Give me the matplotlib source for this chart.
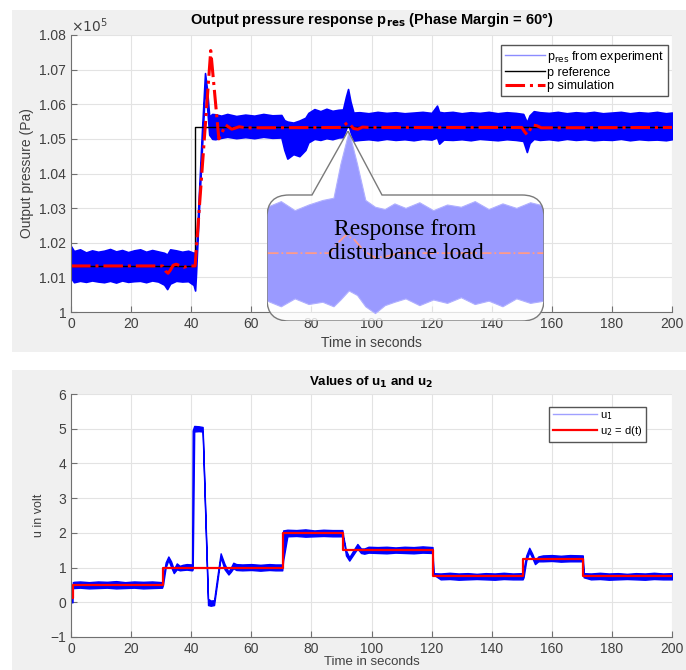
import matplotlib.pyplot as plt
from matplotlib.path import Path
from matplotlib.patches import PathPatch, Rectangle
from matplotlib.lines import Line2D
from matplotlib.ticker import FormatStrFormatter

plt.rcParams['font.family'] = ['Liberation Sans', 'DejaVu Sans']

# ---- top chart: pressure in units of 1e5 Pa ----
exp_t = [0, 1, 3, 5, 7, 9, 11, 13, 15, 17, 19, 21, 23, 25, 27, 29, 31, 32, 33, 35, 37, 39, 40.8, 41.3,
         41.6, 42.5, 43.5, 44.6, 45.3, 46, 47,
         48, 50, 52, 55, 58, 61, 64, 67, 70, 71, 72, 74, 76, 78, 79, 81, 83, 85, 87, 89, 90.5,
         91.5, 92.2, 93, 94, 96, 99, 102, 105, 108, 111, 114, 117, 120, 121.8, 122.5,
         124, 127, 130, 133, 136, 139, 142, 145, 148, 150.5, 151.7, 152.6,
         154, 156, 159, 162, 165, 168, 171, 174, 177, 180, 183, 186, 189, 192, 195, 198, 200]
exp_hi = [1.0190, 1.0176, 1.0181, 1.0172, 1.0178, 1.0174, 1.0177, 1.0182, 1.0175, 1.0179, 1.0173, 1.0178,
          1.0181, 1.0174, 1.0179, 1.0175, 1.0171, 1.0166, 1.0181, 1.0178, 1.0174, 1.0177, 1.0171, 1.0172,
          1.0160, 1.0330, 1.0510, 1.0690, 1.0640, 1.0565, 1.0572,
          1.0571, 1.0567, 1.0572, 1.0566, 1.0570, 1.0567, 1.0572, 1.0568, 1.0569, 1.0554, 1.0550, 1.0547,
          1.0553, 1.0561, 1.0575, 1.0586, 1.0580, 1.0587, 1.0581, 1.0584, 1.0585,
          1.0622, 1.0644, 1.0608, 1.0576, 1.0577, 1.0574, 1.0578, 1.0575, 1.0577, 1.0574, 1.0576, 1.0578,
          1.0575, 1.0596, 1.0578,
          1.0576, 1.0578, 1.0574, 1.0577, 1.0575, 1.0578, 1.0574, 1.0577, 1.0575, 1.0572, 1.0548, 1.0568,
          1.0580, 1.0577, 1.0575, 1.0578, 1.0574, 1.0577, 1.0575, 1.0578, 1.0574, 1.0576, 1.0578, 1.0574,
          1.0577, 1.0575, 1.0578, 1.0574, 1.0576]
exp_lo = [1.0098, 1.0086, 1.0090, 1.0087, 1.0091, 1.0088, 1.0086, 1.0090, 1.0085, 1.0091, 1.0087, 1.0089,
          1.0090, 1.0086, 1.0091, 1.0088, 1.0079, 1.0066, 1.0082, 1.0090, 1.0088, 1.0089, 1.0078, 1.0062,
          1.0110, 1.0280, 1.0460, 1.0650, 1.0590, 1.0512, 1.0500,
          1.0499, 1.0503, 1.0506, 1.0502, 1.0505, 1.0502, 1.0506, 1.0503, 1.0504, 1.0468, 1.0443, 1.0456,
          1.0450, 1.0468, 1.0490, 1.0500, 1.0497, 1.0502, 1.0499, 1.0504, 1.0505,
          1.0528, 1.0545, 1.0520, 1.0495, 1.0497, 1.0499, 1.0496, 1.0500, 1.0497, 1.0499, 1.0496, 1.0500,
          1.0498, 1.0504, 1.0486,
          1.0498, 1.0497, 1.0499, 1.0496, 1.0500, 1.0498, 1.0496, 1.0499, 1.0497, 1.0494, 1.0462, 1.0488,
          1.0500, 1.0497, 1.0499, 1.0496, 1.0500, 1.0497, 1.0499, 1.0496, 1.0498, 1.0497, 1.0500, 1.0496,
          1.0499, 1.0497, 1.0498, 1.0496, 1.0499]

ref_t = [0, 41.3, 41.3, 200]
ref_p = [1.0133, 1.0133, 1.0533, 1.0533]

sim_t = [0, 30.5, 31.5, 32.3, 33, 34, 35, 36.5, 37.5, 39, 41.3, 46.5, 49.2, 51.5, 53.5, 56, 58,
         90, 91, 92, 93, 94, 95.5, 97, 99, 150, 151, 151.8, 152.5, 153.5, 155, 156.5, 200]
sim_p = [1.0133, 1.0133, 1.0118, 1.0112, 1.0120, 1.0135, 1.0138, 1.0133, 1.0129, 1.0133, 1.0133,
         1.0755, 1.0500, 1.0540, 1.0528, 1.0535, 1.0532,
         1.0533, 1.0540, 1.0547, 1.0540, 1.0530, 1.0528, 1.0534, 1.0533, 1.0533, 1.0520, 1.0512,
         1.0522, 1.0540, 1.0538, 1.0532, 1.0533]

# magnified view of the disturbance near t = 92 s
zoom_t = [86, 87, 88, 89, 90, 90.8, 91.3, 91.9, 92.5, 93.1, 93.8, 94.5, 95.2, 96, 97, 98, 99, 100,
          101, 102, 103, 104, 105, 106]
zoom_hi = [1.0574, 1.0579, 1.0571, 1.0576, 1.0580, 1.0582, 1.0612, 1.0641, 1.0612, 1.0580, 1.0574,
           1.0572, 1.0577, 1.0573, 1.0578, 1.0571, 1.0576, 1.0574, 1.0579, 1.0572, 1.0577, 1.0573,
           1.0578, 1.0575]
zoom_lo = [1.0491, 1.0486, 1.0493, 1.0488, 1.0490, 1.0486, 1.0492, 1.0500, 1.0496, 1.0486, 1.0480,
           1.0487, 1.0490, 1.0493, 1.0487, 1.0492, 1.0489, 1.0494, 1.0488, 1.0491, 1.0486, 1.0493,
           1.0489, 1.0491]
zoom_sim_t = [86, 90.5, 91.2, 91.7, 92.3, 93.0, 93.8, 94.6, 95.5, 106]
zoom_sim_p = [1.0533, 1.0533, 1.0543, 1.0549, 1.0545, 1.0535, 1.0529, 1.0530, 1.0533, 1.0533]

# ---- bottom chart: control voltages ----
u1_t = [0, 0.5, 0.6, 1, 3, 6, 9, 12, 15, 18, 21, 24, 27, 30.3,
        30.6, 31.5, 32.4, 33.3, 34.2, 35.2, 36.2, 37.2, 38.5, 40.3,
        40.5, 41, 42.5, 43.8, 45.6, 46.5, 47.6, 48.7, 49.8, 51.1, 52.4, 53.2, 54.0, 55.0,
        57, 60, 63, 66, 68, 70.3,
        70.6, 72, 75, 78, 81, 84, 87, 90.3,
        90.6, 91.5, 92.6, 94, 95.3, 96.5, 97.6, 99, 102, 105, 108, 111, 114, 117, 120.3,
        120.6, 123, 126, 129, 132, 135, 138, 141, 144, 147, 150.3,
        150.6, 151.5, 152.5, 153.5, 154.4, 155.5, 157, 160, 163, 166, 170.3,
        170.6, 173, 176, 179, 182, 185, 188, 191, 194, 197, 200]
u1_hi = [0.20, 0.20, 0.58, 0.59, 0.60, 0.58, 0.60, 0.59, 0.61, 0.58, 0.60, 0.59, 0.60, 0.58,
         0.70, 1.15, 1.32, 1.18, 0.95, 1.12, 1.05, 1.08, 1.10, 1.09,
         4.95, 5.08, 5.07, 5.05, 0.10, 0.05, 0.06, 0.75, 1.41, 1.10, 0.88, 1.00, 1.14, 1.10,
         1.09, 1.10, 1.08, 1.10, 1.09, 1.09,
         2.07, 2.09, 2.08, 2.10, 2.07, 2.09, 2.08, 2.08,
         1.90, 1.50, 1.30, 1.50, 1.68, 1.55, 1.55, 1.60, 1.59, 1.60, 1.58, 1.60, 1.59, 1.61, 1.59,
         0.84, 0.83, 0.85, 0.83, 0.84, 0.82, 0.84, 0.83, 0.85, 0.83, 0.84,
         0.95, 1.35, 1.57, 1.40, 1.20, 1.32, 1.35, 1.36, 1.34, 1.36, 1.35,
         0.84, 0.83, 0.85, 0.83, 0.84, 0.82, 0.84, 0.83, 0.85, 0.83, 0.84]
u1_lo = [0.00, 0.00, 0.40, 0.41, 0.42, 0.40, 0.41, 0.42, 0.40, 0.41, 0.42, 0.40, 0.41, 0.42,
         0.50, 1.00, 1.22, 1.02, 0.84, 0.95, 0.92, 0.93, 0.94, 0.92,
         0.95, 4.92, 4.93, 4.92, -0.08, -0.10, -0.08, 0.60, 1.30, 0.95, 0.80, 0.88, 0.98, 0.93,
         0.92, 0.93, 0.91, 0.93, 0.92, 0.92,
         1.20, 1.90, 1.91, 1.89, 1.90, 1.91, 1.90, 1.90,
         1.85, 1.35, 1.20, 1.38, 1.55, 1.42, 1.40, 1.43, 1.42, 1.41, 1.43, 1.42, 1.41, 1.43, 1.42,
         0.80, 0.66, 0.67, 0.65, 0.66, 0.67, 0.66, 0.65, 0.67, 0.66, 0.66,
         0.72, 1.20, 1.45, 1.28, 1.10, 1.18, 1.18, 1.19, 1.17, 1.18, 1.18,
         0.72, 0.66, 0.67, 0.65, 0.66, 0.67, 0.66, 0.65, 0.67, 0.66, 0.66]

u2_t = [0, 0.6, 30.5, 70.5, 90.5, 120.5, 150.5, 170.5, 200]
u2_v = [0.12, 0.5, 1.0, 2.0, 1.5, 0.77, 1.25, 0.77, 0.77]

W, H = 686, 670
fig = plt.figure(figsize=(W / 100, H / 100), dpi=100)
fig.patch.set_facecolor('white')

# grey MATLAB-like panels
fig.add_artist(Rectangle((12 / W, 1 - 352 / H), 1, 342 / H, transform=fig.transFigure,
                         facecolor='#f0f0f0', edgecolor='none', zorder=-5))
fig.add_artist(Rectangle((12 / W, 0), 1, 1 - 370 / H, transform=fig.transFigure,
                         facecolor='#f0f0f0', edgecolor='none', zorder=-5))

ax1 = fig.add_axes([71 / W, 1 - 312 / H, 601 / W, 277 / H])
ax2 = fig.add_axes([71 / W, 1 - 637 / H, 601 / W, 243 / H])

tick_col = '#404040'


def style(ax):
    ax.set_facecolor('white')
    for s in ['top', 'right']:
        ax.spines[s].set_visible(False)
    for s in ['left', 'bottom']:
        ax.spines[s].set_color('#707070')
    ax.tick_params(direction='in', length=4, colors='#707070', labelcolor=tick_col, labelsize=10)
    ax.grid(True, color='#e3e3e3', lw=0.8)
    ax.set_axisbelow(True)
    ax.set_xlim(0, 200)
    ax.set_xticks(range(0, 201, 20))


# top chart
style(ax1)
ax1.fill_between(exp_t, exp_lo, exp_hi, color='#0000ff', lw=1.2, edgecolor='#0000ff')
l_ref, = ax1.plot(ref_t, ref_p, color='black', lw=1, label='p reference')
l_sim, = ax1.plot(sim_t, sim_p, color='#ff0000', lw=2.2, ls='-.', label='p simulation')
ax1.set_ylim(1.0, 1.08)
ax1.set_yticks([1.0 + 0.01 * i for i in range(9)])
ax1.yaxis.set_major_formatter(FormatStrFormatter('%g'))
ax1.set_ylabel('Output pressure (Pa)', fontsize=10, color=tick_col)
ax1.set_xlabel('Time in seconds', fontsize=10, color=tick_col, labelpad=4)
ax1.set_title(r'Output pressure response p$_{\mathbf{res}}$ (Phase Margin = 60°)',
              fontsize=10.5, fontweight='bold', pad=8)
ax1.text(0, 1.0, r'$\times10^{5}$', transform=ax1.transAxes, fontsize=10, color=tick_col,
         va='bottom', ha='left')
exp_proxy = Line2D([], [], color='#8c8cff', lw=1)
ax1.legend([exp_proxy, l_ref, l_sim],
           [r'p$_{\rm res}$ from experiment', 'p reference', 'p simulation'],
           loc='upper right', bbox_to_anchor=(0.9933, 0.9639), fontsize=9,
           fancybox=False, edgecolor='#555555', framealpha=1, handlelength=3.2,
           borderpad=0.3, labelspacing=0.15, handletextpad=0.2, borderaxespad=0)

# callout overlay in pixel coordinates
ov = fig.add_axes([0, 0, 1, 1], zorder=3)
ov.set_xlim(0, W)
ov.set_ylim(H, 0)
ov.axis('off')
x0, x1, y0, y1, r = 267, 544, 195, 321, 22
verts = [(312, y0), (348, 131), (382, y0), (x1 - r, y0), (x1, y0), (x1, y0 + r),
         (x1, y1 - r), (x1, y1), (x1 - r, y1), (x0 + r, y1), (x0, y1), (x0, y1 - r),
         (x0, y0 + r), (x0, y0), (x0 + r, y0), (312, y0), (312, y0)]
codes = [Path.MOVETO, Path.LINETO, Path.LINETO, Path.LINETO, Path.CURVE3, Path.CURVE3,
         Path.LINETO, Path.CURVE3, Path.CURVE3, Path.LINETO, Path.CURVE3, Path.CURVE3,
         Path.LINETO, Path.CURVE3, Path.CURVE3, Path.LINETO, Path.CLOSEPOLY]
callout = Path(verts, codes)
bg = PathPatch(callout, facecolor='white', alpha=0.8, edgecolor='none')
ov.add_patch(bg)

ins = fig.add_axes([x0 / W, 1 - y1 / H, (x1 - x0) / W, (y1 - 131) / H], zorder=4)
ins.patch.set_visible(False)
ins.axis('off')
ins.set_xlim(86, 106)
ins.set_ylim(1.0473, 1.0641)
band = ins.fill_between(zoom_t, zoom_lo, zoom_hi, color='#9a9aff', lw=0.8, edgecolor='#b0b0ff')
band.set_clip_path(bg)
zl, = ins.plot(zoom_sim_t, zoom_sim_p, color='#ff9a8a', lw=1.3, ls='-.')
zl.set_clip_path(bg)
outline = PathPatch(callout, facecolor='none', edgecolor='#7a7a7a', lw=1,
                    transform=ov.transData, zorder=10)
ins.add_artist(outline)
ins.text(0.5, 0.42, 'Response from\ndisturbance load', transform=ins.transAxes,
         family=['Liberation Serif', 'DejaVu Serif'], fontsize=17, ha='center', va='center',
         linespacing=1.2, color='black')

# bottom chart
style(ax2)
ax2.fill_between(u1_t, u1_lo, u1_hi, color='#0000ff', lw=1.0, edgecolor='#0000ff')
l_u2, = ax2.step(u2_t, u2_v, where='post', color='#ff0000', lw=1.6, label=r'u$_2$ = d(t)')
ax2.set_ylim(-1, 6)
ax2.set_yticks(range(-1, 7))
ax2.set_ylabel('u in volt', fontsize=9, color=tick_col)
ax2.set_xlabel('Time in seconds', fontsize=9.5, color=tick_col, labelpad=0)
ax2.set_title(r'Values of u$_\mathbf{1}$ and u$_\mathbf{2}$', fontsize=9.5, fontweight='bold', pad=6)
u1_proxy = Line2D([], [], color='#a0a0ff', lw=1)
ax2.legend([u1_proxy, l_u2], [r'u$_1$', r'u$_2$ = d(t)'], loc='upper right',
           bbox_to_anchor=(0.9567, 0.9465), fontsize=8, fancybox=False,
           edgecolor='#555555', framealpha=1, handlelength=4, borderpad=0.3,
           labelspacing=0.2, handletextpad=0.3, borderaxespad=0)

fig.savefig('out.png', dpi=100)
